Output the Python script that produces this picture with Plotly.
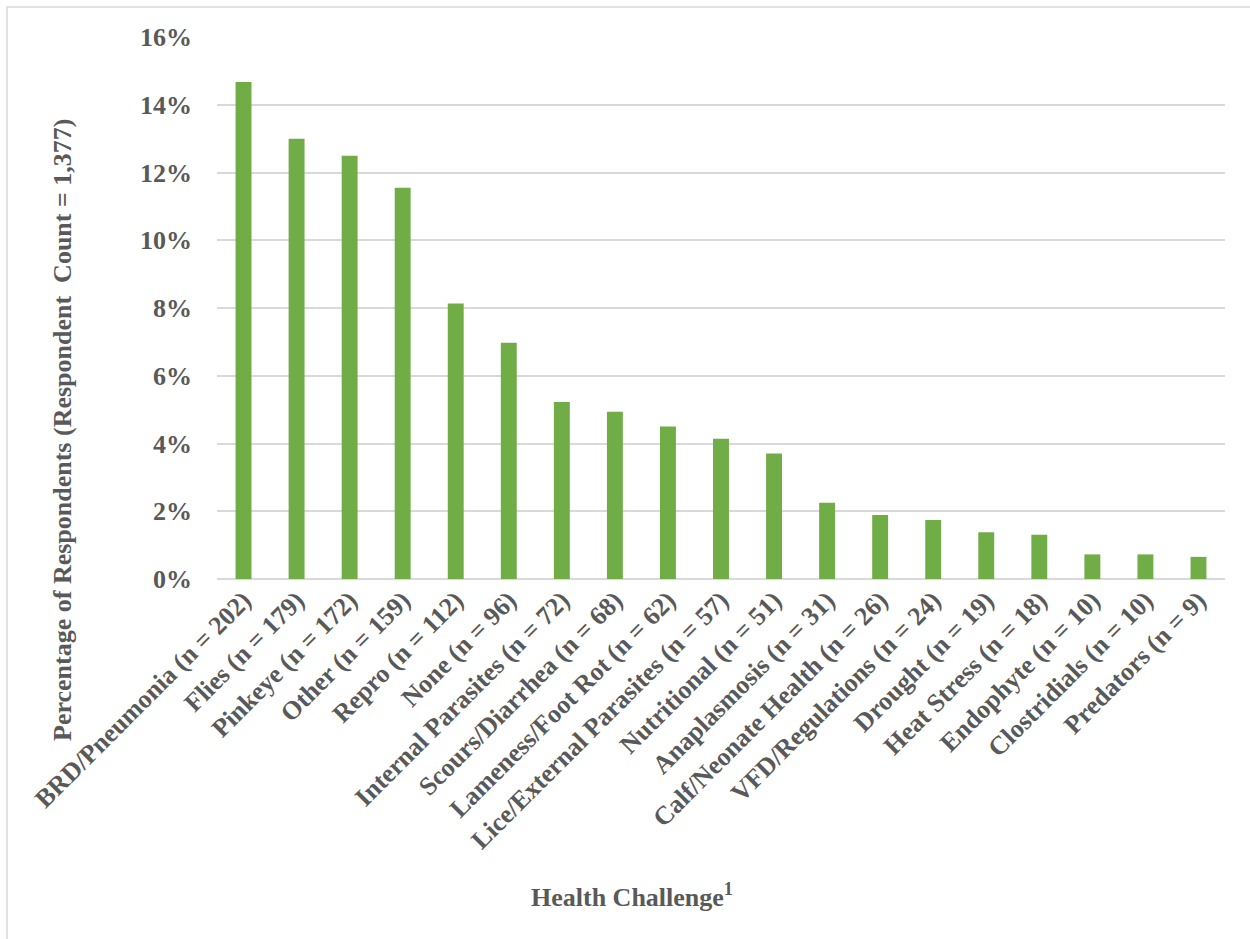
import plotly.graph_objects as go

# Survey responses: health challenge categories and respondent counts
categories = [
    "BRD/Pneumonia", "Flies", "Pinkeye", "Other", "Repro", "None",
    "Internal Parasites", "Scours/Diarrhea", "Lameness/Foot Rot",
    "Lice/External Parasites", "Nutritional", "Anaplasmosis",
    "Calf/Neonate Health", "VFD/Regulations", "Drought", "Heat Stress",
    "Endophyte", "Clostridials", "Predators",
]
counts = [202, 179, 172, 159, 112, 96, 72, 68, 62, 57, 51, 31, 26, 24, 19, 18, 10, 10, 9]
total_respondents = 1377
y_tick_values = [0, 0.02, 0.04, 0.06, 0.08, 0.10, 0.12, 0.14, 0.16]

labels = [f"{c} (n = {n})" for c, n in zip(categories, counts)]
shares = [n / total_respondents for n in counts]

FONT = "Liberation Serif"
TEXT = "#595959"
W, H = 1250, 939
L, R, T, B = 217, 25, 37, 360
PW, PH = W - L - R, H - T - B


def px_x(x):
    return (x - L) / PW


def px_y(y):
    return (H - B - y) / PH


fig = go.Figure(
    go.Bar(
        x=labels,
        y=shares,
        marker=dict(color="#70ad47", line=dict(width=0)),
        width=0.3,
    )
)

fig.update_layout(
    width=W,
    height=H,
    margin=dict(l=L, r=R, t=T, b=B),
    paper_bgcolor="white",
    plot_bgcolor="white",
    font=dict(family=FONT, color=TEXT, size=26),
    showlegend=False,
    xaxis=dict(
        tickangle=-45,
        tickfont=dict(family=FONT, size=26, color=TEXT, weight="bold"),
        showgrid=False,
        showline=False,
        ticks="",
        automargin=False,
    ),
    yaxis=dict(
        range=[0, 0.16],
        tickvals=y_tick_values,
        tickformat=".0%",
        tickfont=dict(family=FONT, size=26, color=TEXT, weight="bold"),
        showgrid=True,
        gridcolor="#d9d9d9",
        gridwidth=1.5,
        zeroline=True,
        zerolinecolor="#d9d9d9",
        zerolinewidth=1.5,
        showline=False,
        ticks="",
        ticklabelstandoff=24,
        automargin=False,
    ),
)

# Axis titles
fig.add_annotation(
    text="<b>Health Challenge<sup>1</sup></b>",
    xref="paper", yref="paper", x=px_x(632), y=px_y(895),
    xanchor="center", yanchor="middle", showarrow=False,
    font=dict(family=FONT, size=26, color=TEXT),
)
fig.add_annotation(
    text="<b>Percentage of Respondents (Respondent  Count = 1,377)</b>",
    xref="paper", yref="paper", x=px_x(62), y=px_y(430),
    xanchor="center", yanchor="middle", textangle=-90, showarrow=False,
    font=dict(family=FONT, size=26, color=TEXT),
)

# Chart frame
fig.add_shape(
    type="rect", xref="paper", yref="paper",
    x0=px_x(7), x1=px_x(W + 20), y0=px_y(H + 20), y1=px_y(7),
    line=dict(color="#d9d9d9", width=1.5), fillcolor="rgba(0,0,0,0)", layer="below",
)

fig.write_html("out.html")
